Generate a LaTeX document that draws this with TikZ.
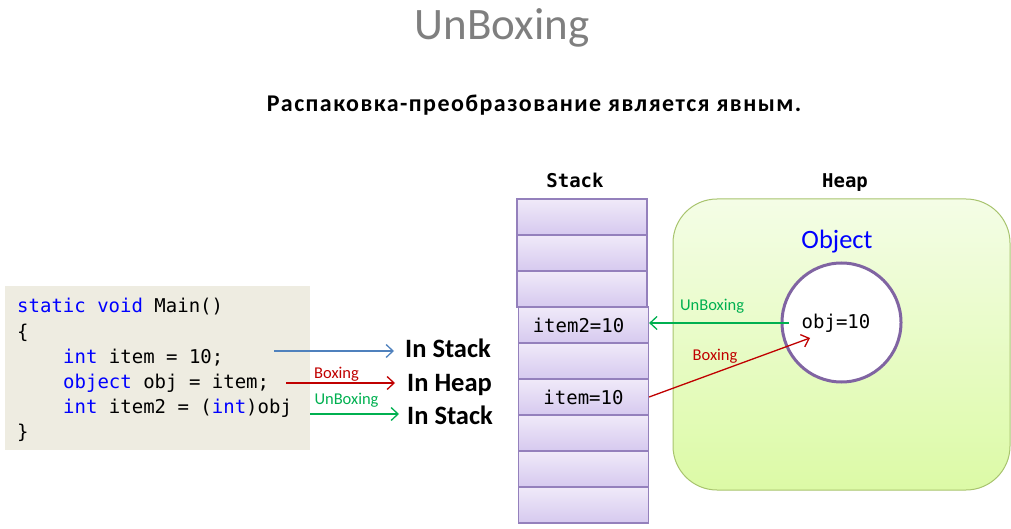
\documentclass[tikz,border=0pt]{standalone}
\usepackage{fontspec}
\setmainfont{Carlito}
\setmonofont{DejaVu Sans Mono}
\usetikzlibrary{arrows.meta, positioning, calc}
\definecolor{titlegray}{HTML}{7F7F7F}
\definecolor{codebg}{HTML}{EEECE1}
\definecolor{kwblue}{HTML}{0000FF}
\definecolor{celltop}{HTML}{F0EAF9}
\definecolor{cellbottom}{HTML}{D6C9EF}
\definecolor{cellborder}{HTML}{9480BC}
\definecolor{heaptop}{HTML}{F4FDE6}
\definecolor{heapbottom}{HTML}{DCFAA6}
\definecolor{heapborder}{HTML}{A8C46E}
\definecolor{objborder}{HTML}{8064A2}
\definecolor{stackblue}{HTML}{4F81BD}
\definecolor{boxred}{HTML}{C00000}
\definecolor{unboxgreen}{HTML}{00B050}
\newcommand{\kw}[1]{\textcolor{kwblue}{#1}}
\tikzstyle{cell} = [rectangle, minimum width=130pt, minimum height=36pt, draw=cellborder, line width=1.2pt, top color=celltop, bottom color=cellbottom, inner sep=0pt, font=\ttfamily\fontsize{19}{19}\selectfont]
\tikzstyle{codeline} = [anchor=base west, inner sep=0pt, font=\ttfamily\fontsize{19}{19}\selectfont]
\tikzstyle{place} = [anchor=base west, inner sep=0pt, font=\bfseries\fontsize{26.5}{26.5}\selectfont]
\tikzstyle{memlabel} = [anchor=base, inner sep=0pt, font=\ttfamily\bfseries\fontsize{19}{19}\selectfont]
\tikzstyle{tag} = [inner sep=0pt, font=\fontsize{16.5}{16.5}\selectfont]
\tikzstyle{arrow} = [line width=1.3pt, -{Straight Barb[length=7pt,width=13pt]}]

\begin{document}
\begin{tikzpicture}[x=1pt, y=1pt, node distance=36pt]
    \useasboundingbox (0,0) rectangle (1011,-529);

    \node (title) [anchor=base, inner sep=0pt, text=titlegray, font=\fontsize{45}{45}\selectfont] at (502,-40) {UnBoxing};
    \node (subtitle) [anchor=base, inner sep=0pt, font=\bfseries\fontsize{24}{24}\selectfont\addfontfeatures{LetterSpace=6}] at (534,-112) {Распаковка-преобразование является явным.};

    % code
    \node (codebox) [rectangle, fill=codebg, minimum width=305pt, minimum height=164pt, anchor=north west] at (5,-286) {};
    \node (line1) [codeline] at (17,-312) {\kw{static} \kw{void} Main()};
    \node (line2) [codeline] at (17,-338) {\{};
    \node (line3) [codeline] at (63,-363) {\kw{int} item = 10;};
    \node (line4) [codeline] at (63,-388) {\kw{object} obj = item;};
    \node (line5) [codeline] at (63,-413) {\kw{int} item2 = (\kw{int})obj};
    \node (line6) [codeline] at (17,-438) {\}};

    \node (instack) [place] at (405,-357) {In Stack};
    \node (inheap) [place] at (407,-391) {In Heap};
    \node (instack2) [place] at (407,-424) {In Stack};

    \coordinate (from3) at (274,-351);
    \coordinate (from4) at (286,-383);
    \coordinate (from5) at (310,-414);

    % stack
    \node (stacklabel) [memlabel] at (575,-188) {Stack};
    \node (cell1) [cell] at (582,-217) {};
    \node (cell2) [cell, below of=cell1] {};
    \node (cell3) [cell, below of=cell2] {};
    \node (cell4) [cell, below of=cell3, xshift=1.5pt] {item2=10\hspace*{10pt}};
    \node (cell5) [cell, below of=cell4] {};
    \node (cell6) [cell, below of=cell5] {item=10};
    \node (cell7) [cell, below of=cell6] {};
    \node (cell8) [cell, below of=cell7] {};
    \node (cell9) [cell, below of=cell8] {};

    % heap
    \node (heaplabel) [memlabel] at (845,-188) {Heap};
    \node (heap) [rectangle, rounded corners=44pt, minimum width=337pt, minimum height=291pt, draw=heapborder, line width=1pt, top color=heaptop, bottom color=heapbottom] at (841.5,-344.5) {};
    \node (objlabel) [anchor=base, inner sep=0pt, text=kwblue, font=\fontsize{26.5}{26.5}\selectfont] at (837,-249) {Object};
    \node (object) [circle, minimum size=119pt, draw=objborder, line width=3pt, fill=white] at (841.5,-322.5) {};
    \node (objval) [anchor=base, inner sep=0pt, font=\ttfamily\fontsize{19}{19}\selectfont] at (836,-328) {obj=10};
    \coordinate (objleft) at (789,-323);
    \coordinate (objin) at (810,-338);

    \draw [arrow, stackblue] (from3) -- ([xshift=-11pt]from3 -| instack.west);
    \draw [arrow, boxred] (from4) -- node[tag, above, yshift=1pt, xshift=-4pt] {Boxing} ([xshift=-12pt]from4 -| inheap.west);
    \draw [arrow, unboxgreen] (from5) -- node[tag, above, yshift=6pt, xshift=-8pt] {UnBoxing} ([xshift=-8pt]from5 -| instack2.west);

    \draw [arrow, unboxgreen] (objleft) -- node[tag, above, yshift=9pt, xshift=-7pt] {UnBoxing} (objleft -| cell4.east);
    \draw [arrow, boxred] (cell6.east) -- (objin);
    \node (boxtag) [tag, text=boxred] at (715,-356) {Boxing};

\end{tikzpicture}
\end{document}
